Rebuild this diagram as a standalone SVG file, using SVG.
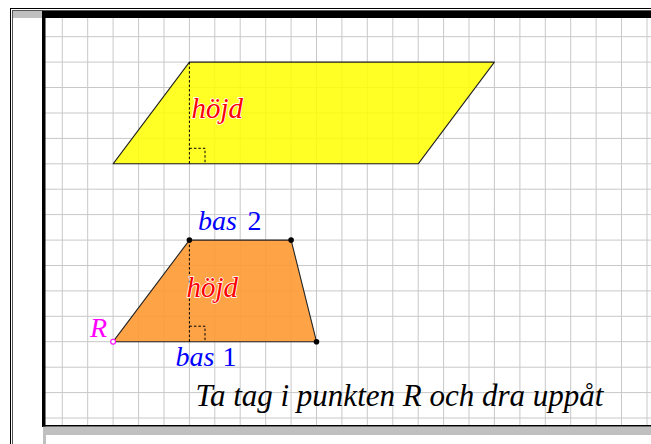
<svg xmlns="http://www.w3.org/2000/svg" width="651" height="444" viewBox="0 0 651 444">
<style>
.grid{stroke:#c8c8c8;stroke-width:1;fill:none}
.edge{stroke:#222;stroke-width:1.1;stroke-linejoin:round}
.dash{stroke:#000;stroke-width:1;fill:none;stroke-dasharray:2.5 2}
.lbl{font-family:"Liberation Serif","Times New Roman",serif;font-style:italic}
.h{fill:#ff0000;stroke:#fff;stroke-width:1.6;paint-order:stroke;font-size:29px}
.bas{fill:#0000ff;font-size:28px}
.pt{fill:#000}
</style>
<rect width="651" height="444" fill="#fff"/>
<g id="window-frame">
<line x1="10.5" y1="8" x2="10.5" y2="444" stroke="#000"/>
<line x1="10" y1="8.5" x2="651" y2="8.5" stroke="#000"/>
<line x1="12.5" y1="10" x2="12.5" y2="444" stroke="#555"/>
<line x1="12" y1="10.5" x2="651" y2="10.5" stroke="#555"/>
<rect x="13" y="11" width="29" height="7" fill="#c0c0c0"/>
</g>
<g id="grid">
<path class="grid" d="M62.3 18V425M87.7 18V425M113.1 18V425M138.6 18V425M164 18V425M189.4 18V425M214.8 18V425M240.2 18V425M265.7 18V425M291.1 18V425M316.5 18V425M341.9 18V425M367.3 18V425M392.8 18V425M418.2 18V425M443.6 18V425M469 18V425M494.4 18V425M519.9 18V425M545.3 18V425M570.7 18V425M596.1 18V425M621.5 18V425M647 18V425M45 36.7H651M45 62.1H651M45 87.5H651M45 113H651M45 138.4H651M45 163.8H651M45 189.2H651M45 214.6H651M45 240.1H651M45 265.5H651M45 290.9H651M45 316.3H651M45 341.7H651M45 367.2H651M45 392.6H651M45 418H651"/>
</g>
<g id="parallelogram">
<polygon class="edge" points="113.1,163.8 189.4,62.1 494.4,62.1 418.2,163.8" fill="#ffff00" fill-opacity="0.85"/>
<line class="dash" x1="189.4" y1="62.1" x2="189.4" y2="163.8"/>
<path class="dash" d="M189.4 148.3H205V163.8"/>
<text class="lbl h" x="191.5" y="118">höjd</text>
</g>
<g id="trapezoid">
<polygon class="edge" points="113.1,341.7 189.4,240.1 291.1,240.1 316.5,341.7" fill="#ff9933" fill-opacity="0.9"/>
<line class="dash" x1="189.4" y1="240.1" x2="189.4" y2="341.7"/>
<path class="dash" d="M189.4 326.2H205V341.7"/>
<text class="lbl h" x="186.5" y="296.7">höjd</text>
<circle class="pt" cx="189.4" cy="240.1" r="2.8"/>
<circle class="pt" cx="291.1" cy="240.1" r="2.8"/>
<circle class="pt" cx="316.5" cy="341.7" r="2.8"/>
</g>
<g id="point-R">
<circle cx="113.1" cy="341.7" r="2.4" fill="#fff" stroke="#ff00ff" stroke-width="1.1"/>
<text class="lbl" x="90" y="336.7" font-size="28" fill="#ff00ff">R</text>
</g>
<g id="labels">
<text class="lbl bas" x="198" y="230">bas<tspan x="247.5" font-style="normal">2</tspan></text>
<text class="lbl bas" x="175.5" y="365.7">bas<tspan x="222.5" font-style="normal">1</tspan></text>
<text class="lbl" x="195.5" y="406" font-size="31" fill="#000">Ta tag i punkten R och dra uppåt</text>
</g>
<g id="connectors"></g>
<g id="view-border">
<rect x="42" y="11" width="609" height="7" fill="#000"/>
<rect x="42" y="11" width="3.5" height="416" fill="#000"/>
<rect x="42" y="425" width="609" height="1.7" fill="#000"/>
<rect x="43" y="426.7" width="608" height="8.3" fill="#c0c0c0"/>
<rect x="43" y="435" width="3" height="9" fill="#c0c0c0"/>
</g>
</svg>
